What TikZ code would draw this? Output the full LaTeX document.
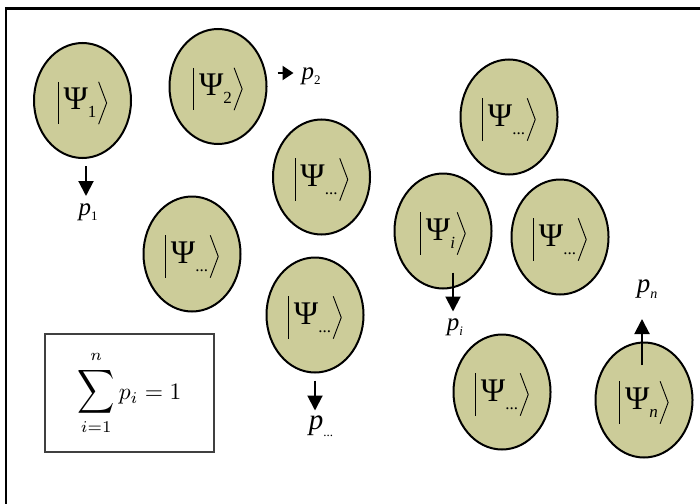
\documentclass[tikz,border=0pt]{standalone}
\usepackage[no-math]{fontspec}
\usepackage{graphicx}
\newfontfamily\kfont{Liberation Serif}
\usetikzlibrary{arrows.meta,shapes.geometric}

\definecolor{statefill}{RGB}{204,204,153}

% lowered subscript for the kets and the probabilities
\newcommand\ksub[3]{\raisebox{#1}{\fontsize{#2}{#2}\selectfont #3}}

% one quantum state: ellipse, |Psi_sub> text, bar and angle bracket
\newcommand\qstate[4]{%
  \node[stateshape] (#1) at (#2,#3) {};
  \node[ketlabel] (#1t) at (#2-4,#3+2.5) {\kern3pt Ψ\ksub{-8pt}{17}{#4}};
  \draw[ketline] (#1t.north west) -- (#1t.south west);
  \draw[ketline] (#1t.north east) -- ([xshift=8pt]#1t.east) -- (#1t.south east);
}

\begin{document}
\begin{tikzpicture}[x=1pt,y=-1pt,
  stateshape/.style={ellipse, draw=black, line width=2pt, fill=statefill,
    minimum width=97pt, minimum height=115pt, inner sep=0pt},
  ketlabel/.style={font=\kfont\fontsize{33}{33}\selectfont, inner xsep=2pt,
    inner ysep=0pt, minimum height=42pt},
  ketline/.style={line width=0.9pt},
  parrow/.style={line width=2pt, -{Triangle[length=15pt,width=15pt]}},
  smallarrow/.style={line width=2pt, -{Triangle[length=11pt,width=14pt]}},
  plabel/.style={font=\kfont\fontsize{25}{25}\selectfont, inner sep=0pt},
  sumframe/.style={draw=black!75, line width=2pt, minimum width=169pt,
    minimum height=118pt, inner sep=0pt}]

\useasboundingbox (0,0) rectangle (700,503);
\begin{scope}
  \clip (0,0) rectangle (700,503);
  \draw[line width=2.5pt] (6,8.5) rectangle (720,530);
\end{scope}

% the states
\qstate{k1}{82.5}{100.5}{1}
\qstate{k2}{218}{86.5}{2}
\qstate{k3}{321.5}{177}{...}
\qstate{k4}{192}{254}{...}
\qstate{k5}{315}{315}{...}
\qstate{k6}{509}{117}{...}
\qstate{k7}{443}{231}{\textit{i}}
\qstate{k8}{560}{237}{...}
\qstate{k9}{502}{392}{...}
\qstate{k10}{644}{400}{\textit{n}}

% probability labels
\node[plabel] (p1) at (88,212) {\textit{p}\ksub{-5pt}{13}{1}};
\node[plabel] (p2) at (311,76) {\textit{p}\ksub{-5pt}{13}{2}};
\node[plabel, font=\kfont\fontsize{29}{29}\selectfont] (pd) at (321,426) {\textit{p}\ksub{-7pt}{13}{...}};
\node[plabel] (pi) at (455,327) {\textit{p}\ksub{-5pt}{13}{\textit{i}}};
\node[plabel, font=\kfont\fontsize{27}{27}\selectfont] (pn) at (647,289) {\textit{p}\ksub{-6pt}{14}{\textit{n}}};

% arrows from the states to their probabilities
\draw[parrow] ([xshift=3.5pt,yshift=-7pt]k1.south) -- ([xshift=3.5pt,yshift=-37pt]k1.south);
\draw[smallarrow] ([xshift=10pt,yshift=13.5pt]k2.east) -- ([xshift=26pt,yshift=13.5pt]k2.east);
\draw[parrow] ([yshift=-7pt]k5.south) -- ([yshift=-37pt]k5.south);
\draw[parrow] ([xshift=10pt,yshift=17pt]k7.south) -- ([xshift=10pt,yshift=-22pt]k7.south);
\draw[parrow] ([xshift=-2pt,yshift=-23.5pt]k10.north) -- ([xshift=-2pt,yshift=22.5pt]k10.north);

% normalisation condition
\node[sumframe] (norm) at (129.5,393)
  {\scalebox{2.35}{$\displaystyle\mathop{\scalebox{1.1}[1.3]{$\displaystyle\sum$}}\limits_{\raisebox{-1pt}{$\scriptstyle i=1$}}^{\raisebox{1pt}{$\scriptstyle n$}} p_i = 1$}};
\end{tikzpicture}
\end{document}
